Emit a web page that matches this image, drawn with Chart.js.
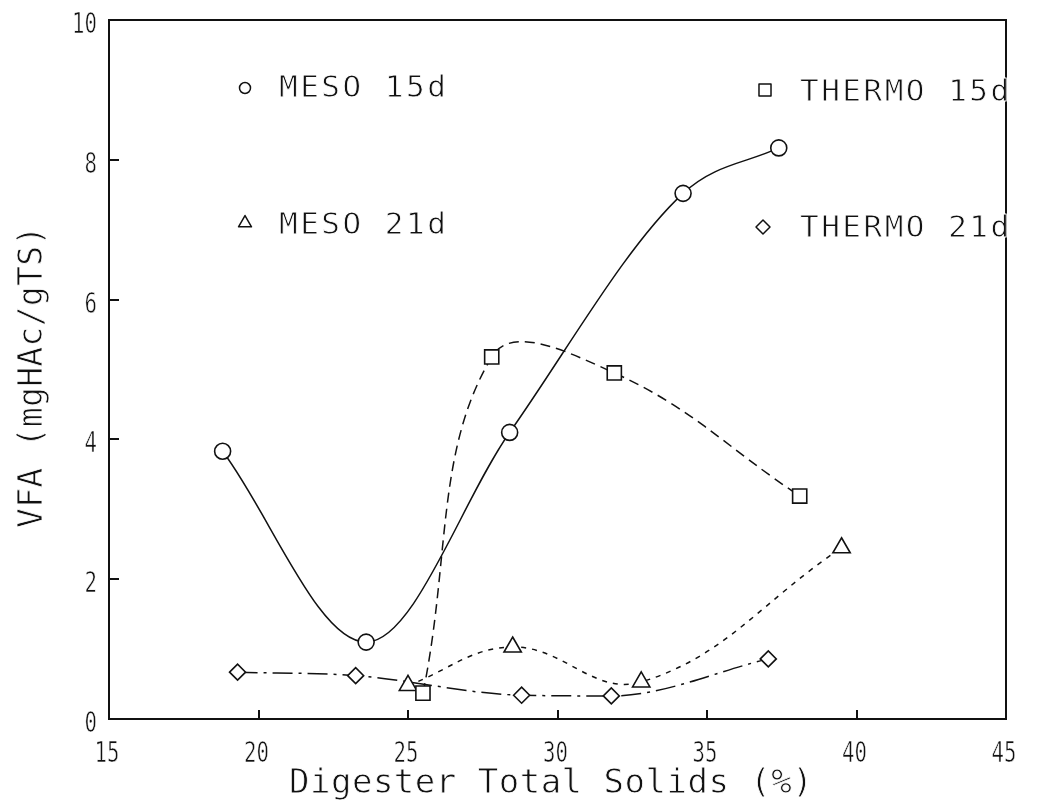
<!DOCTYPE html>
<html>
<head>
<meta charset="utf-8">
<title>VFA vs Digester Total Solids</title>
<script src="https://cdn.jsdelivr.net/npm/chart.js@4.4.1/dist/chart.umd.min.js"></script>
<style>
  html, body { margin: 0; padding: 0; background: #fff; }
  #wrap { width: 1042px; height: 806px; position: relative; }
</style>
</head>
<body>
<div id="wrap"><canvas id="vfaChart"></canvas></div>
<script>
// Digester total solids (%) against VFA (mgHAc/gTS), one pair of arrays per run
const meso15X = [18.8, 23.6, 28.4, 34.2, 37.4];
const meso15Y = [3.83, 1.10, 4.10, 7.52, 8.17];

const thermo15X = [25.5, 27.8, 31.9, 38.1];
const thermo15Y = [0.37, 5.18, 4.95, 3.19];

const meso21X = [25.0, 28.5, 32.8, 39.5];
const meso21Y = [0.48, 1.03, 0.53, 2.45];

const thermo21X = [19.3, 23.25, 28.8, 31.8, 37.05];
const thermo21Y = [0.67, 0.62, 0.34, 0.33, 0.86];

// Axis ticks
const xTickValues = [15, 20, 25, 30, 35, 40, 45];
const yTickValues = [0, 2, 4, 6, 8, 10];

const X_TITLE = 'Digester Total Solids (%)';
const Y_TITLE = 'VFA (mgHAc/gTS)';

const FONT = "'DejaVu Sans Mono', monospace";
const INK = '#111';

function toPoints(xs, ys) {
    return xs.map((x, i) => ({ x, y: ys[i] }));
}

// Line / marker styling per run
const SERIES = [
    { label: 'MESO 15d', xs: meso15X, ys: meso15Y, pointStyle: 'circle', radius: 8, dash: [], curve: 'monotone' },
    { label: 'THERMO 15d', xs: thermo15X, ys: thermo15Y, pointStyle: 'rect', radius: 10, dash: [10, 6], curve: 'default' },
    { label: 'MESO 21d', xs: meso21X, ys: meso21Y, pointStyle: 'triangle', radius: 10, dash: [5, 6], curve: 'default' },
    { label: 'THERMO 21d', xs: thermo21X, ys: thermo21Y, pointStyle: 'rectRot', radius: 8, dash: [20, 6, 3, 6], curve: 'monotone' },
];

// Key placement inside the plot box (marker centre, text start / baseline)
const KEY_LAYOUT = {
    'MESO 15d':   { mx: 245, my: 88,  r: 5.5, tx: 279, ty: 97 },
    'MESO 21d':   { mx: 245, my: 223, r: 7.5, tx: 279, ty: 234 },
    'THERMO 15d': { mx: 765, my: 90,  r: 8.5, tx: 800, ty: 101 },
    'THERMO 21d': { mx: 763, my: 227, r: 7,   tx: 800, ty: 237 },
};

// Pen-plotter lettering: fill the glyphs, then shave the edges with a thin
// white stroke so the strokes come out light
function penText(ctx, text, x, y, thin) {
    ctx.fillStyle = INK;
    ctx.fillText(text, x, y);
    ctx.strokeStyle = '#fff';
    ctx.lineWidth = thin;
    ctx.lineJoin = 'round';
    ctx.strokeText(text, x, y);
}

// Tick label: tall narrow digits
function tickText(ctx, text, x, y, align) {
    ctx.save();
    ctx.font = `28px ${FONT}`;
    ctx.textBaseline = 'alphabetic';
    ctx.textAlign = align;
    ctx.translate(x, y);
    ctx.scale(0.74, 1);
    penText(ctx, text, 0, 0, 0.6);
    ctx.restore();
}

// Box frame, short inward tick marks and tick labels
const frameTicks = {
    id: 'frameTicks',
    beforeDatasetsDraw(chart) {
        const { ctx, chartArea: a, scales: { x, y } } = chart;
        ctx.save();
        ctx.strokeStyle = INK;
        ctx.lineWidth = 2;
        ctx.setLineDash([]);
        ctx.strokeRect(a.left, a.top, a.right - a.left, a.bottom - a.top);
        ctx.beginPath();
        x.ticks.forEach(t => {
            if (t.value <= x.min || t.value >= x.max) return;
            const px = Math.round(x.getPixelForValue(t.value));
            ctx.moveTo(px, a.bottom);
            ctx.lineTo(px, a.bottom - 9);
        });
        y.ticks.forEach(t => {
            if (t.value <= y.min || t.value >= y.max) return;
            const py = Math.round(y.getPixelForValue(t.value));
            ctx.moveTo(a.left, py);
            ctx.lineTo(a.left + 10, py);
        });
        ctx.stroke();
        ctx.restore();

        x.ticks.forEach(t => {
            tickText(ctx, t.label, x.getPixelForValue(t.value) - 2, a.bottom + 43, 'center');
        });
        y.ticks.forEach(t => {
            tickText(ctx, t.label, a.left - 12, y.getPixelForValue(t.value) + 13, 'right');
        });
    },
};

// Axis titles
const axisTitles = {
    id: 'axisTitles',
    afterDraw(chart) {
        const { ctx, chartArea: a } = chart;
        ctx.save();
        ctx.textBaseline = 'alphabetic';

        ctx.font = `34px ${FONT}`;
        ctx.letterSpacing = '0.5px';
        ctx.textAlign = 'left';
        penText(ctx, X_TITLE, 289, a.bottom + 74, 0.8);

        ctx.font = `33px ${FONT}`;
        ctx.letterSpacing = '0.3px';
        ctx.translate(42, 528);
        ctx.rotate(-Math.PI / 2);
        penText(ctx, Y_TITLE, 0, 0, 0.8);
        ctx.restore();
    },
};

// Symbol key scattered in the plot corners
const symbolKey = {
    id: 'symbolKey',
    afterDraw(chart) {
        const { ctx } = chart;
        ctx.save();
        SERIES.forEach(s => {
            const k = KEY_LAYOUT[s.label];
            ctx.fillStyle = '#fff';
            ctx.strokeStyle = INK;
            ctx.lineWidth = 1.5;
            ctx.setLineDash([]);
            Chart.helpers.drawPoint(ctx, { pointStyle: s.pointStyle, radius: k.r, borderWidth: 1.5, rotation: 0 }, k.mx, k.my);

            ctx.font = `31px ${FONT}`;
            ctx.letterSpacing = '2.5px';
            ctx.textAlign = 'left';
            ctx.textBaseline = 'alphabetic';
            penText(ctx, s.label, k.tx, k.ty, 0.8);
        });
        ctx.restore();
    },
};

const ctx = document.getElementById('vfaChart');

new Chart(ctx, {
    type: 'scatter',
    data: {
        datasets: SERIES.map(s => ({
            label: s.label,
            data: toPoints(s.xs, s.ys),
            showLine: true,
            borderColor: INK,
            borderWidth: 1.5,
            borderDash: s.dash,
            tension: 0.4,
            cubicInterpolationMode: s.curve,
            pointStyle: s.pointStyle,
            pointRadius: s.radius,
            pointHoverRadius: s.radius,
            pointBackgroundColor: '#fff',
            pointBorderColor: INK,
            pointBorderWidth: 1.6,
        })),
    },
    options: {
        responsive: true,
        maintainAspectRatio: false,
        animation: false,
        events: [],
        layout: { padding: { top: 20, right: 36, left: 0, bottom: 0 } },
        plugins: {
            legend: { display: false },
            tooltip: { enabled: false },
        },
        scales: {
            x: {
                type: 'linear',
                min: 15,
                max: 45,
                afterBuildTicks: (scale) => { scale.ticks = xTickValues.map(v => ({ value: v })); },
                afterFit: (scale) => { scale.height = 87; },
                grid: { display: false, drawTicks: false },
                border: { display: false },
                ticks: { display: false },
            },
            y: {
                type: 'linear',
                min: 0,
                max: 10,
                afterBuildTicks: (scale) => { scale.ticks = yTickValues.map(v => ({ value: v })); },
                afterFit: (scale) => { scale.width = 109; },
                grid: { display: false, drawTicks: false },
                border: { display: false },
                ticks: { display: false },
            },
        },
    },
    plugins: [frameTicks, axisTitles, symbolKey],
});
</script>
</body>
</html>
